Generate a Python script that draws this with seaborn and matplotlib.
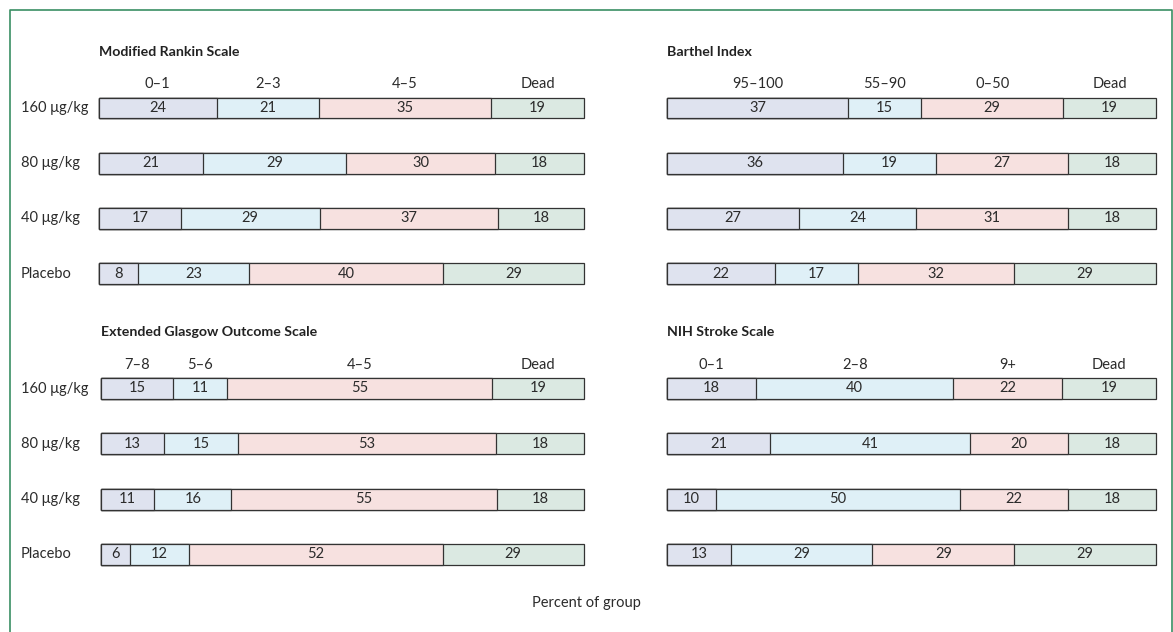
import matplotlib
matplotlib.use("Agg")
import matplotlib.pyplot as plt
import matplotlib.transforms as mtransforms
from matplotlib.lines import Line2D
import numpy as np
import pandas as pd
import seaborn as sns

# ---- data ----
groups = ["160 μg/kg", "80 μg/kg", "40 μg/kg", "Placebo"]

mrs_cats = ["0–1", "2–3", "4–5", "Dead"]
mrs_vals = [[24, 21, 35, 19], [21, 29, 30, 18], [17, 29, 37, 18], [8, 23, 40, 29]]

barthel_cats = ["95–100", "55–90", "0–50", "Dead"]
barthel_vals = [[37, 15, 29, 19], [36, 19, 27, 18], [27, 24, 31, 18], [22, 17, 32, 29]]

gose_cats = ["7–8", "5–6", "4–5", "Dead"]
gose_vals = [[15, 11, 55, 19], [13, 15, 53, 18], [11, 16, 55, 18], [6, 12, 52, 29]]

nihss_cats = ["0–1", "2–8", "9+", "Dead"]
nihss_vals = [[18, 40, 22, 19], [21, 41, 20, 18], [10, 50, 22, 18], [13, 29, 29, 29]]

seg_colors = ["#dfe3ef", "#dff0f7", "#f7e1e0", "#dbe9e2"]
edge_color = "#333333"
text_color = "#2b2b2b"
frame_color = "#3a8f63"

W, H = 1173, 632
FS = 10.5

sns.set_theme(style="white")
plt.rcParams["font.family"] = ["Lato", "DejaVu Sans"]

fig = plt.figure(figsize=(W / 100, H / 100), dpi=100)


def axes_rect(x0, x1, yc_first, yc_last):
    step = (yc_last - yc_first) / 3
    top = yc_first - step / 2
    bottom = yc_last + step / 2
    return [x0 / W, 1 - bottom / H, (x1 - x0) / W, (bottom - top) / H]


def draw_panel(rect, title, cats, vals, show_groups):
    ax = fig.add_axes(rect)
    arr = np.array(vals, dtype=float)
    widths = arr / arr.sum(axis=1, keepdims=True) * 100
    cum = widths.cumsum(axis=1)

    # overlay cumulative bars, longest first
    for k in range(len(cats) - 1, -1, -1):
        df = pd.DataFrame({"group": groups, "cum": cum[:, k]})
        sns.barplot(data=df, x="cum", y="group", order=groups, orient="h",
                    color=seg_colors[k], saturation=1, width=0.38,
                    edgecolor=edge_color, linewidth=0.9, errorbar=None, ax=ax)
    for p in ax.patches:
        p.set_clip_on(False)

    starts = cum - widths
    for i in range(len(groups)):
        for k in range(len(cats)):
            ax.text(starts[i, k] + widths[i, k] / 2, i, f"{vals[i][k]}",
                    ha="center", va="center", fontsize=FS, color=text_color)

    for k, c in enumerate(cats):
        ax.text(starts[0, k] + widths[0, k] / 2, -0.43, c, ha="center",
                va="center", fontsize=FS, color=text_color, clip_on=False)

    ax.text(0, -1.02, title, ha="left", va="center", fontsize=10.2,
            fontweight="bold", color="#222222", clip_on=False)

    if show_groups:
        tr = mtransforms.blended_transform_factory(fig.transFigure, ax.transData)
        for i, g in enumerate(groups):
            ax.text(21 / W, i, g, transform=tr, ha="left", va="center",
                    fontsize=FS, color=text_color)

    ax.set_xlim(0, 100)
    ax.set_ylim(3.5, -0.5)
    ax.set_xlabel("")
    ax.set_ylabel("")
    ax.set_xticks([])
    ax.set_yticks([])
    for s in ax.spines.values():
        s.set_visible(False)
    ax.patch.set_alpha(0)
    return ax


draw_panel(axes_rect(99, 584, 108, 273.5), "Modified Rankin Scale", mrs_cats, mrs_vals, True)
draw_panel(axes_rect(667, 1156, 108, 273.5), "Barthel Index", barthel_cats, barthel_vals, False)
draw_panel(axes_rect(101, 584, 388.5, 554.5), "Extended Glasgow Outcome Scale", gose_cats, gose_vals, True)
draw_panel(axes_rect(667, 1156, 388.5, 554.5), "NIH Stroke Scale", nihss_cats, nihss_vals, False)

fig.text(586 / W, 1 - 603 / H, "Percent of group", ha="center", va="center",
         fontsize=FS, color=text_color)

# green frame open at the bottom
fx0, fx1, fy = 9.5 / W, 1171.5 / W, 1 - 9.5 / H
fig.add_artist(Line2D([fx0, fx0, fx1, fx1], [0, fy, fy, 0],
                      transform=fig.transFigure, color=frame_color, linewidth=1.2))

fig.savefig("out.png", dpi=100)
